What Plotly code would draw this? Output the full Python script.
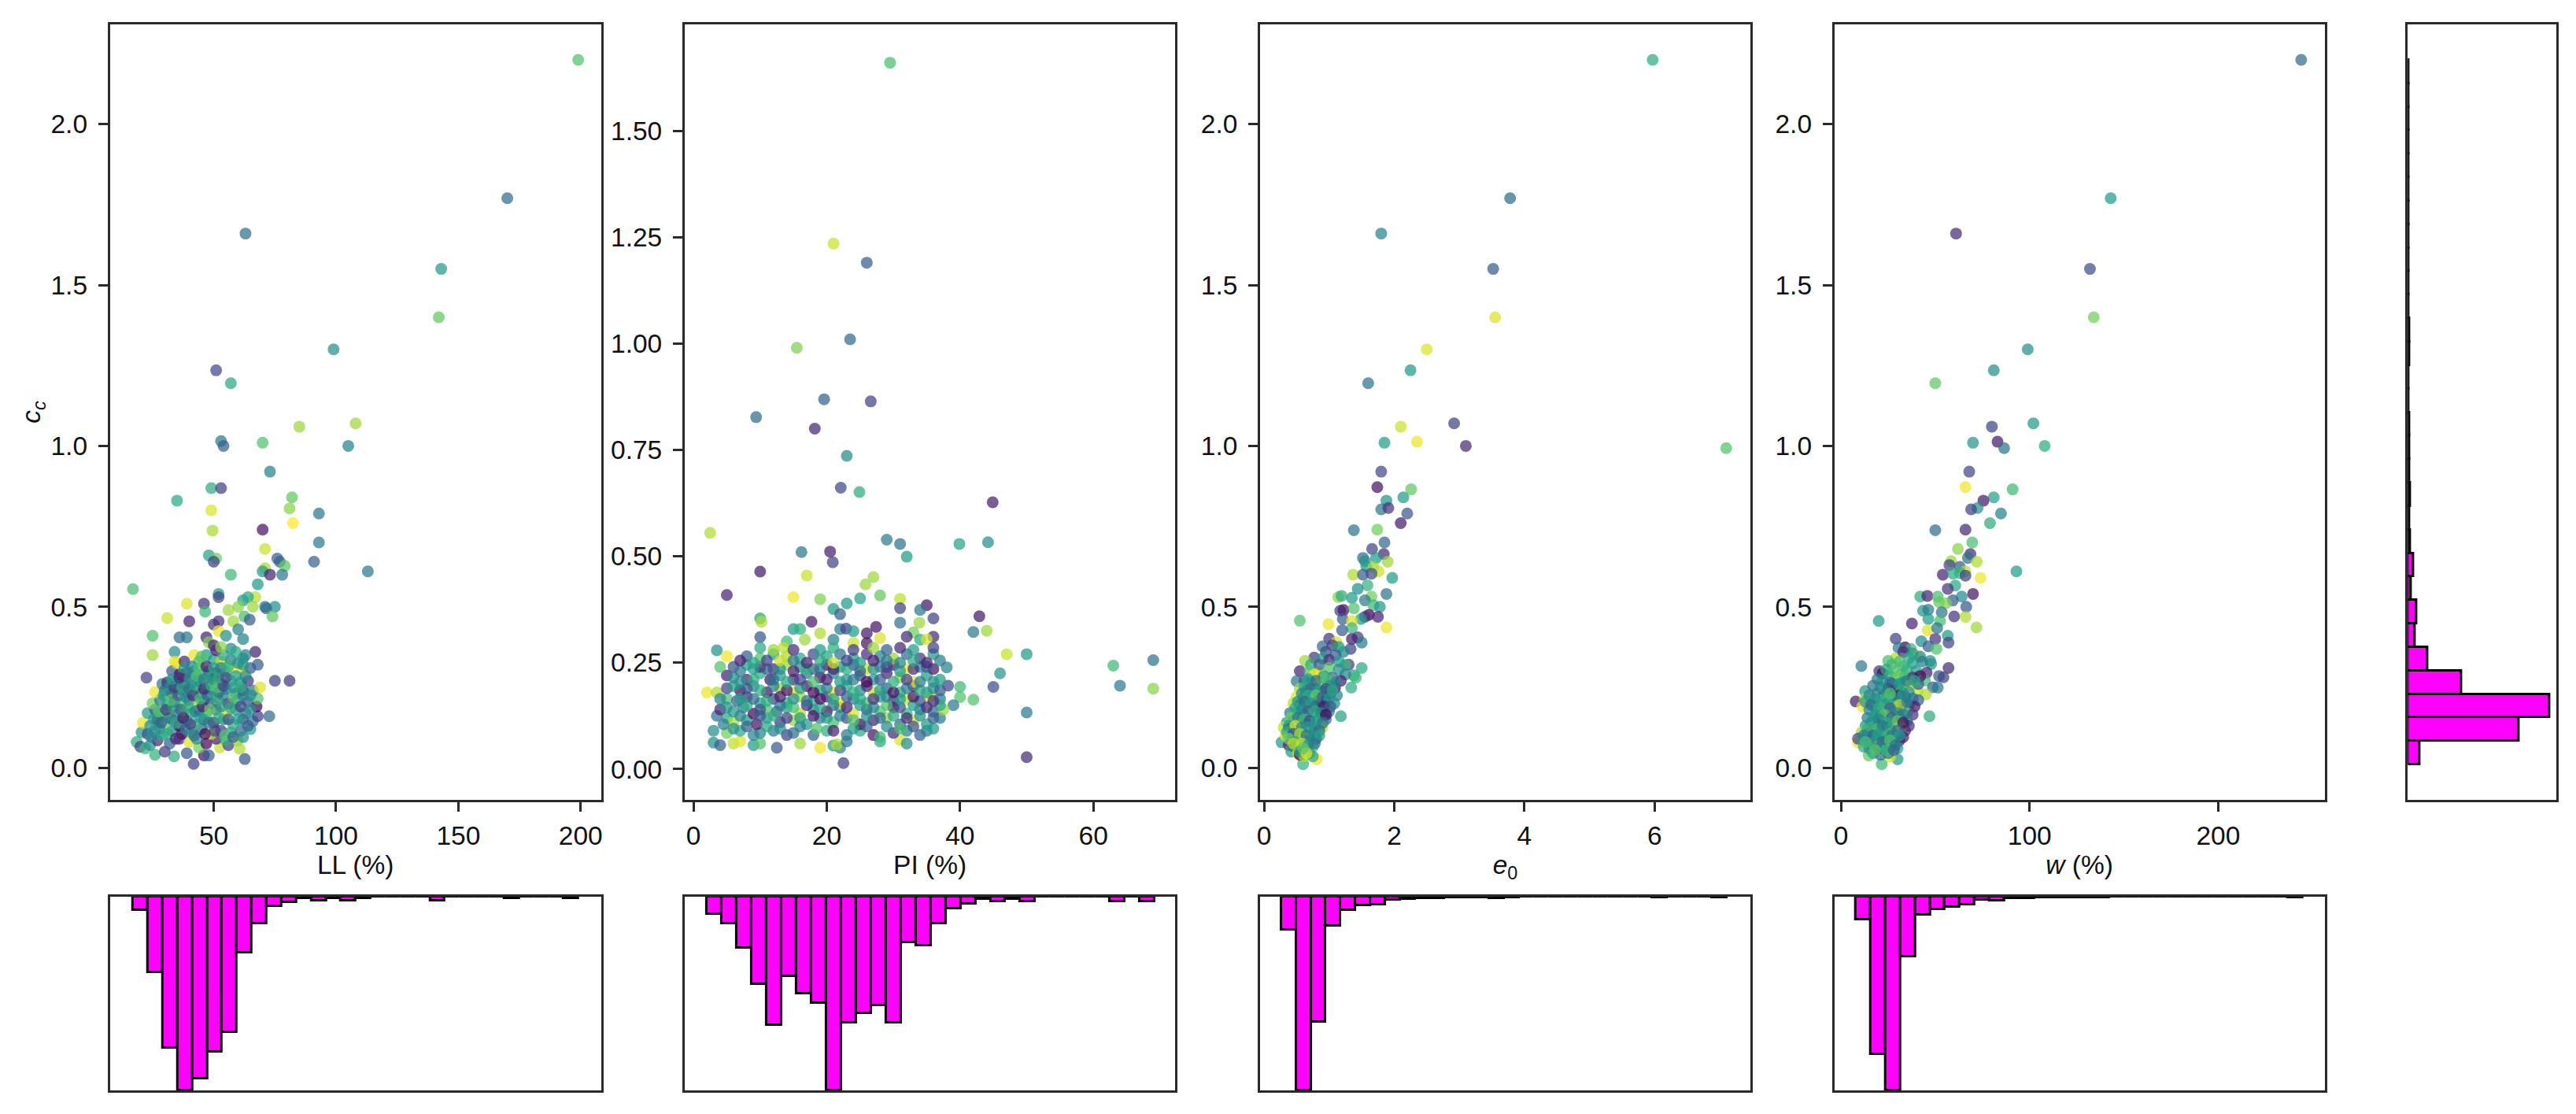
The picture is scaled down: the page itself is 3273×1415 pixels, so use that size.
import plotly.graph_objects as go

# (value, cc, colour value)
ll_points = [
(199,2.2,.72),(170,1.77,.35),(63,1.66,.38),(143,1.55,.55),(142,1.40,.75),(99,1.30,.5),(51,1.235,.22),(57,1.195,.6),
(53,1.015,.42),(54,1.0,.3),(70,1.01,.72),(108,1.07,.85),(105,1.0,.45),(85,1.06,.85),(73,.92,.45),(49,.869,.62),(53,.869,.2),
(35,.83,.6),(82,.84,.75),(81,.806,.82),(93,.79,.4),(49,.80,.95),(82.4,.76,1.0),(49.5,.737,.87),(70,.74,.05),(93,.70,.42),
(71,.68,.92),(76,.65,.32),(77,.64,.3),(48,.66,.58),(51,.65,.78),(50,.64,.2),(91,.64,.32),(79,.627,.75),(71,.62,.88),(70,.61,.55),
(73,.60,.1),(78,.60,.4),(57,.60,.68),(113,.61,.4),(68,.57,.55),(17,.555,.7),(52,.54,.55),(52,.53,.2),(67,.53,.9),(62,.52,.55),
(64,.53,.6),(39,.51,.95),(46,.51,.15),(66,.50,.85),(71,.50,.42),(75,.50,.5),(71.5,.495,.35),(46.5,.485,.68),(56,.49,.85),(60,.50,.82),
(62.5,.47,.7),(74,.47,.75),(31,.465,.92),(40,.455,.1),(50,.445,.15),(52,.455,.15),(58,.455,.85),(64.7,.46,.3),(60,.43,.45),(25,.41,.72),
(52,.425,.97),(36,.405,.35),(39,.405,.4),(47,.405,.1),(55,.41,.5),(62,.40,.45),(48,.39,.8),(67,.36,.1),(25,.35,.85),(34,.36,.5),
(62,.34,.5),(68,.32,.3),(75,.27,.2),(81,.27,.18),(22.5,.28,.2),(42,.35,.97),(34,.33,.95),(41.8,.012,.2),(62.7,.027,.28),(33.8,.035,.62),
(26,.04,.65),(30,.05,.18),(39,.045,.28),(46,.038,.05),(48,.038,.32),(44,.063,.78),(52.5,.063,.92),(60.6,.059,.88),(56,.07,.18),(59.8,.085,.85),
(18.5,.08,.62),(20,.065,.2),(22,.06,.66),(24,.07,.5),(27,.085,.12),(32,.075,.3),(36,.09,.1),(40,.08,.95),(43,.09,.48),(47,.075,.02),(51,.09,.08),(55,.085,.62),
(20.5,.11,.52),(23,.105,.25),(26,.115,.55),(29,.10,.6),(33,.115,.42),(37,.105,.02),(41,.11,.62),(45,.12,.3),(49,.105,.92),(53,.115,.18),(57,.11,.55),(61,.115,.32),(65,.12,.55),
(21,.14,.97),(24,.13,.48),(27,.15,.02),(30,.135,.75),(33,.15,.25),(36,.13,.02),(39,.145,.45),(43,.135,.65),(46,.15,.3),(50,.14,.05),(54,.15,.45),(58,.135,.62),(62,.15,.22),(66,.145,.38),(72.7,.16,.35),(68,.16,.2),
(23,.17,.55),(26,.18,.3),(29,.165,.62),(32,.175,.92),(35,.165,.42),(38,.18,.88),(41,.17,.55),(44,.18,.08),(47,.165,.68),(51,.18,.35),(55,.17,.92),(59,.18,.5),(63,.17,.42),(67.5,.19,.0),
(25,.20,.78),(28,.21,.42),(31,.195,.55),(34,.205,.12),(37,.20,.72),(40,.21,.3),(43,.195,.82),(46,.21,.58),(49,.20,.2),(52,.21,.78),(56,.20,.1),(60,.21,.62),(64,.205,.25),(68,.215,.72),
(26,.235,.97),(30,.24,.3),(33,.23,.08),(36,.245,.62),(39,.235,.2),(42,.24,.78),(45,.23,.42),(48,.245,.72),(52,.235,.1),(55,.245,.55),(59,.23,.45),(62,.24,.08),(66,.24,.42),(69,.25,.95),
(29,.26,.4),(31,.265,.12),(35,.27,.5),(38,.26,.1),(41,.265,.62),(44,.27,.28),(47,.26,.75),(50,.275,.08),(53,.26,.35),(57,.27,.68),(61,.265,.5),(64,.27,.15),
(33,.30,.3),(36,.29,.05),(39,.295,.1),(42,.30,.55),(45,.29,.62),(48,.30,.32),(51,.295,.02),(55,.30,.68),(59,.31,.98),(62,.30,.98),(65,.31,.3),
(35,.325,.98),(38,.33,.12),(44,.33,.7),(50,.335,.55),(53,.33,.9),(57,.335,.42),(63,.35,.45),(47,.35,.55),(51,.365,.05),
]
ll_dense = [
(24.5,.095,.45),(28,.12,.5),(31,.105,.62),(34.5,.09,.12),(38.5,.12,.42),(42,.10,.35),(46.5,.105,.02),(50.5,.115,.2),(54.5,.10,.72),(58,.095,.3),(62,.095,.5),
(25.5,.15,.55),(28.5,.14,.3),(31.5,.155,.45),(34.5,.14,.6),(37.5,.155,.05),(40.5,.135,.2),(44.5,.155,.55),(48,.14,.4),(52,.155,.62),(56,.15,.28),(60,.15,.55),(64,.13,.3),
(27.5,.175,.72),(30.5,.18,.18),(33.5,.19,.55),(36.5,.18,.3),(39.5,.19,.62),(42.5,.175,.45),(45.5,.19,.1),(48.5,.18,.75),(53,.19,.5),(57,.185,.62),(61,.19,.2),(65,.18,.5),
(29.5,.225,.55),(32.5,.21,.72),(35.5,.225,.35),(38.5,.22,.5),(41.5,.225,.12),(44.5,.215,.68),(47.5,.225,.3),(50.5,.22,.55),(54,.225,.4),(58,.22,.72),(62,.225,.42),(65,.225,.5),
(32,.25,.5),(34,.25,.15),(37,.25,.6),(40,.245,.38),(43,.255,.55),(46,.245,.1),(49,.255,.62),(51.5,.25,.72),(54,.255,.2),(58,.25,.5),(61,.25,.62),
(33,.275,.55),(36,.28,.12),(40,.28,.45),(43,.285,.7),(46,.275,.42),(49,.285,.55),(52,.28,.62),(55,.28,.2),(59,.285,.55),(63,.285,.48),
(38,.31,.55),(41,.315,.45),(44,.31,.72),(47,.315,.08),(50,.31,.6),(53,.31,.42),(56,.315,.65),(60,.325,.5),(62,.32,.52),(45,.345,.72),(54,.35,.6),(57,.37,.48),(59,.36,.6),(50,.38,.12),(53,.375,.82),
]

pi_points = [
(29.5,1.66,.7),(21,1.235,.92),(26,1.19,.3),(23.5,1.01,.35),(15.5,.99,.8),(19.6,.869,.32),(26.6,.864,.2),(9.4,.827,.35),(18.2,.80,.1),
(23,.736,.48),(22.1,.661,.22),(24.9,.651,.62),(44.9,.627,.08),(2.5,.555,.88),(29,.539,.42),(31,.529,.38),(39.9,.529,.58),(44.2,.533,.5),
(16.2,.51,.4),(20.5,.511,.08),(20.9,.486,.2),(32,.499,.55),(10,.464,.07),(17,.455,.92),(27,.451,.85),(25.8,.434,.85),(5,.409,.1),(15,.404,.98),
(19,.399,.8),(25,.401,.58),(28,.408,.75),(23,.389,.55),(31,.40,.9),(21,.376,.55),(31,.378,.2),(35,.385,.05),(34,.374,.4),(36,.354,.2),(10,.354,.58),
(10.2,.346,.88),(17.7,.346,.07),(22,.364,.3),(31,.344,.38),(33.9,.344,.85),(42.9,.359,.07),(42,.322,.42),(44,.325,.85),(15,.329,.55),(16,.329,.62),
(22,.329,.42),(22.9,.33,.2),(24,.324,.55),(27.4,.334,.05),(26,.319,.07),(19,.319,.88),(10,.31,.28),(33,.321,.78),(36,.311,.12),(32,.311,.12),(14,.30,.68),
(16.7,.304,.85),(21,.304,.45),(24,.296,.92),(26,.296,.05),(28,.308,.95),(34,.304,.6),(35,.305,.95),(3.5,.279,.5),(47,.27,.92),(50,.27,.55),(69,.256,.38),
(63,.243,.68),(46,.225,.52),(38,.239,.45),(64,.196,.42),(69,.189,.82),(45,.193,.25),(40,.193,.68),(40,.169,.72),(42,.163,.72),(50,.133,.4),(50,.028,.12),
(39,.15,.4),(38.2,.196,.22),(22.5,.014,.2),
(3,.062,.5),(4,.056,.3),(6,.06,.9),(7,.065,.95),(9,.056,.55),(10,.06,.72),(12.5,.05,.28),(16,.06,.85),(19,.05,.98),(21,.055,.55),(22,.05,.45),(21.5,.058,.88),(23,.065,.4),(28,.065,.6),(31,.068,.95),(32,.06,.48),
(3,.09,.5),(5,.085,.78),(7,.09,.6),(9,.08,.45),(10,.085,.45),(12,.09,.42),(14,.08,.2),(15,.085,.35),(18,.08,.32),(20,.09,.62),(23,.08,.42),(25,.09,.62),(27,.08,.05),(28,.075,.68),(30,.085,.12),(32,.09,.45),(34,.08,.3),(35,.09,.4),
(3.5,.125,.38),(5,.12,.6),(6,.11,.88),(8,.115,.55),(9.5,.105,.05),(11,.12,.5),(13,.11,.15),(15,.115,.85),(17,.105,.55),(19,.12,.42),(21,.11,.7),(23,.12,.25),(25,.105,.02),(27,.115,.1),(29,.12,.85),(31,.105,.32),(33,.115,.95),(35,.105,.55),(37,.12,.42),
(4,.14,.1),(6,.135,.55),(7.5,.145,.42),(9,.13,.02),(11,.14,.72),(12.5,.135,.3),(14,.145,.55),(16,.13,.9),(18,.14,.45),(20,.135,.02),(22,.145,.55),(24,.13,.95),(26,.14,.2),(28,.135,.72),(30,.145,.05),(32,.13,.65),(34,.14,.38),(36,.135,.35),(37.5,.14,.85),
(5,.165,.7),(6.5,.16,.3),(8,.17,.12),(10,.155,.58),(12,.165,.2),(14,.155,.62),(16,.17,.85),(18,.16,.62),(20,.17,.1),(22,.155,.98),(24,.165,.42),(26,.155,.7),(28,.17,.52),(30,.16,.12),(32,.165,.92),(34,.16,.25),(35.5,.17,.95),(37,.165,.42),
(2,.18,.98),(3.5,.18,.88),(5,.19,.2),(7,.185,.02),(9,.195,.42),(11,.18,.05),(13,.19,.85),(15,.18,.95),(17,.195,.05),(19,.185,.55),(21,.18,.97),(23,.195,.6),(25,.185,.48),(27,.18,.9),(29,.19,.3),(31,.18,.62),(33,.195,.08),(35,.18,.55),(36,.19,.5),
(5,.22,.1),(6,.215,.48),(8,.21,.1),(10,.225,.6),(11.5,.21,.05),(13,.22,.55),(15,.21,.12),(17,.225,.42),(19,.215,.02),(21,.225,.45),(23,.21,.5),(25,.22,.25),(27,.21,.55),(29,.225,.1),(31,.215,.82),(33,.205,.98),(35,.22,.55),(36,.205,.5),
(4,.24,.72),(6,.24,.25),(8,.245,.55),(10,.24,.08),(12,.235,.12),(14,.245,.85),(16,.24,.5),(18,.235,.3),(20,.245,.05),(22,.24,.55),(24,.245,.2),(26,.235,.92),(28,.24,.35),(30,.245,.08),(32,.235,.98),(34,.24,.42),(36,.235,.05),
(5,.265,.98),(8,.265,.3),(10,.26,.72),(12,.27,.55),(14,.265,.88),(16,.26,.6),(18,.27,.22),(20,.265,.58),(22,.27,.38),(24,.26,.52),(26,.27,.12),(28,.265,.45),(30,.26,.85),(32,.27,.35),(34,.26,.18),(36,.27,.52),
(10,.285,.6),(12,.28,.85),(13.5,.285,.9),(15,.28,.12),(19,.28,.55),(21,.285,.62),(24,.28,.18),(27,.285,.85),(29,.28,.3),(31,.285,.1),(33,.28,.55),(36,.285,.2),
]
pi_dense = [
(6,.095,.5),(8,.10,.3),(11,.10,.6),(13,.095,.5),(16,.10,.42),(18.5,.095,.72),(21,.09,.08),(24,.095,.55),(26,.10,.3),(29,.10,.48),(31,.095,.7),(33,.10,.25),(36,.095,.55),
(4.5,.105,.42),(7,.125,.45),(10,.125,.3),(12,.125,.62),(14,.12,.2),(16,.12,.55),(18,.125,.05),(20,.12,.55),(22,.125,.4),(24,.115,.72),(26,.125,.5),(28,.12,.35),(30,.125,.6),(32,.12,.12),(34,.125,.5),(36,.12,.3),
(5,.145,.5),(8,.15,.62),(10,.14,.25),(13,.15,.4),(15,.145,.7),(17,.15,.12),(19,.145,.6),(21,.15,.35),(23,.145,.08),(25,.15,.55),(27,.145,.45),(29,.15,.72),(31,.145,.25),(33,.15,.55),(35,.145,.12),(37,.15,.6),
(4,.165,.45),(7,.165,.55),(9,.165,.35),(11,.16,.62),(13,.17,.08),(15,.165,.5),(17,.16,.38),(19,.165,.05),(21,.165,.58),(23,.17,.3),(25,.165,.6),(27,.165,.15),(29,.17,.45),(31,.165,.55),(33,.17,.05),(36,.16,.12),
(6,.195,.55),(8,.19,.3),(10,.185,.62),(12,.195,.42),(14,.185,.05),(16,.19,.55),(18,.18,.02),(20,.19,.45),(22,.185,.2),(24,.18,.62),(26,.195,.12),(28,.185,.55),(30,.18,.05),(32,.19,.42),(34,.185,.6),(37,.185,.3),
(7,.205,.52),(9,.21,.62),(12,.21,.35),(14,.205,.6),(16,.21,.2),(18,.205,.7),(20,.21,.1),(22,.205,.55),(24,.21,.4),(26,.205,.02),(28,.21,.3),(30,.205,.62),(32,.21,.18),(34,.205,.4),(37,.21,.55),
(7,.23,.42),(9,.235,.55),(11,.235,.3),(13,.235,.5),(15,.23,.08),(17,.235,.65),(19,.235,.38),(21,.235,.1),(23,.235,.6),(25,.23,.3),(27,.235,.5),(29,.24,.2),(31,.23,.55),(33,.235,.12),(35,.24,.3),
(7,.255,.08),(9,.25,.6),(11,.255,.2),(13,.255,.92),(15,.255,.4),(17,.25,.1),(19,.255,.6),(21,.25,.92),(23,.255,.2),(25,.25,.55),(27,.255,.07),(29,.255,.42),(31,.25,.45),(33,.255,.6),(35,.25,.1),(37,.255,.42),
]

e0_points = [
(5.97,2.2,.62),(3.78,1.77,.35),(1.8,1.66,.45),(3.52,1.55,.3),(3.55,1.4,.95),(2.5,1.3,.95),(2.25,1.235,.55),(1.6,1.195,.38),
(2.92,1.07,.2),(2.1,1.06,.92),(2.35,1.013,.97),(1.85,1.01,.55),(3.1,1.0,.12),(7.1,.993,.72),(1.8,.92,.22),(1.74,.872,.05),(2.26,.865,.75),(2.14,.84,.55),
(1.88,.83,.52),(1.8,.803,.42),(1.91,.807,.15),(2.2,.79,.28),(2.1,.76,.07),(1.38,.738,.38),(1.74,.74,.78),(1.85,.70,.33),(1.66,.68,.22),(1.84,.664,.12),
(1.52,.652,.38),(1.72,.652,.55),(1.55,.642,.5),(1.9,.64,.85),(1.57,.626,.55),(1.68,.624,.85),(1.76,.61,.92),(1.37,.60,.88),(1.52,.60,.3),(1.65,.603,.25),
(1.97,.59,.55),(1.59,.567,.65),(1.44,.556,.5),(1.88,.54,.38),(1.14,.53,.82),(1.19,.534,.62),(1.35,.528,.55),(1.65,.532,.78),(1.55,.52,.42),(1.68,.505,.68),
(1.78,.50,.55),(1.17,.488,.2),(1.22,.49,.05),(1.38,.495,.72),(1.61,.475,.02),(1.75,.469,.1),(1.55,.469,.15),(1.49,.462,.55),(1.21,.462,.3),(.55,.457,.72),
(.99,.446,.97),(1.88,.436,.98),(1.35,.456,.95),(1.35,.434,.68),(1.2,.427,.3),(1.44,.405,.2),(1.0,.401,.15),(1.35,.40,.07),(1.5,.389,.42),(1.11,.39,.95),
(.9,.377,.35),(1.33,.369,.2),(1.22,.36,.45),(.77,.342,.18),(.63,.332,.85),(1.3,.32,.15),(1.5,.31,.6),(1.25,.32,.68),(.55,.30,.1),(1.38,.287,.58),(1.41,.28,.68),
(.85,.295,.95),(.5,.269,.4),(1.34,.249,.62),(1.09,.248,.02),(1.18,.16,.58),(.81,.026,.98),(.6,.011,.65),(.27,.079,.55),
(1.05,.38,.18),(1.15,.375,.55),(.95,.36,.25),(1.1,.35,.3),(.9,.34,.55),(1.0,.335,.12),(1.15,.33,.55),(.72,.32,.6),(.85,.32,.3),(1.0,.31,.72),(1.15,.305,.5),(1.25,.29,.45),
(.7,.30,.72),(.78,.29,.98),(.92,.285,.55),(1.05,.28,.35),(1.18,.27,.08),(.62,.27,.3),(.72,.265,.42),(.85,.26,.9),(.98,.26,.62),(1.1,.265,.45),(.55,.245,.85),(.65,.24,.2),(.78,.245,.5),(.9,.235,.38),
(1.02,.23,.02),(1.12,.225,.45),(.5,.22,.95),(.6,.215,.55),(.72,.22,.3),(.85,.21,.05),(.95,.205,.08),(1.08,.2,.5),(.45,.2,.88),(.55,.195,.35),(.65,.19,.72),(.78,.19,.05),(.88,.18,.55),(1.0,.175,.45),
(.4,.17,.42),(.5,.17,.62),(.6,.165,.38),(.72,.16,.72),(.85,.16,.7),(.95,.15,.38),(.35,.14,.55),(.45,.145,.3),(.55,.135,.82),(.65,.135,.1),(.75,.13,.68),(.88,.13,.55),
(.3,.125,.9),(.38,.12,.05),(.48,.115,.62),(.58,.12,.72),(.68,.11,.95),(.78,.11,.28),(.9,.125,.95),(.33,.1,.98),(.42,.095,.4),(.52,.09,.72),(.62,.085,.55),(.72,.085,.62),(.8,.09,.08),
(.38,.07,.1),(.46,.065,.02),(.55,.06,.9),(.65,.06,.35),(.75,.065,.7),(.42,.05,.55),(.52,.045,.92),(.55,.04,.0),(.7,.045,.6),(.62,.035,.88),(.75,.035,.6),
]
e0_dense = [
(.68,.275,.55),(.8,.27,.35),(.95,.275,.7),(1.02,.255,.5),(.62,.25,.6),(.72,.245,.35),(.85,.24,.55),(.95,.245,.25),(1.05,.24,.6),(.58,.23,.45),(.68,.225,.62),(.8,.225,.75),(.9,.22,.3),(1.0,.215,.55),
(.52,.205,.5),(.62,.205,.35),(.72,.20,.55),(.82,.195,.4),(.92,.19,.05),(1.02,.19,.3),(.48,.185,.6),(.58,.18,.45),(.68,.175,.3),(.78,.175,.62),(.88,.17,.45),(.95,.165,.02),
(.42,.155,.78),(.52,.155,.4),(.62,.15,.68),(.7,.145,.22),(.8,.145,.55),(.9,.14,.4),(.38,.13,.55),(.48,.13,.95),(.58,.125,.45),(.68,.125,.55),(.78,.12,.52),(.85,.115,.35),
(.35,.11,.62),(.45,.105,.25),(.55,.105,.88),(.65,.10,.35),(.75,.095,.5),(.85,.10,.58),(.38,.09,.78),(.48,.08,.6),(.58,.075,.92),(.68,.07,.5),(.78,.075,.4),(.45,.075,.9),(.55,.05,.55),(.65,.045,.95),(.6,.06,.75),
]

w_points = [
(244,2.2,.35),(143,1.77,.55),(61,1.66,.12),(132,1.55,.25),(134,1.4,.78),(99,1.30,.5),(81,1.235,.5),(50,1.195,.75),
(80,1.06,.22),(102,1.07,.55),(70,1.01,.52),(83,1.013,.07),(86.5,.993,.38),(108,1.0,.62),(68,.92,.22),(66,.872,.98),(91,.865,.68),(81,.84,.57),(75.5,.83,.07),
(72.4,.807,.52),(69,.803,.2),(84.8,.79,.45),(79,.76,.62),(50,.738,.35),(66,.74,.12),(69.6,.70,.7),(62,.68,.82),(68.6,.664,.12),(67.3,.652,.38),(72,.64,.88),
(58.4,.642,.85),(57.5,.63,.2),(63,.624,.3),(66,.61,.9),(93,.61,.55),(54,.60,.1),(59.4,.603,.62),(63,.605,.65),(66,.597,.2),(74,.59,.98),(60.6,.566,.6),(56.6,.556,.15),
(70,.54,.05),(42,.532,.62),(45.8,.534,.1),(51.3,.532,.7),(64,.532,.48),(52,.515,.75),(59.3,.52,.3),(55.6,.511,.8),(66.4,.50,.28),(43.5,.488,.52),(46.3,.491,.42),
(53.4,.483,.38),(60,.47,.15),(66,.469,.88),(46.3,.462,.55),(52.5,.456,.7),(20,.456,.55),(37.6,.448,.1),(71.8,.436,.85),(46,.427,.95),(51,.434,.38),(56.6,.41,.55),
(29,.401,.2),(50,.40,.15),(57,.389,.22),(42.6,.393,.48),(46.3,.377,.3),(34,.374,.02),(37,.369,.68),(30.5,.373,.4),(50.6,.369,.72),(40.7,.348,.98),(29,.34,.88),(25,.332,.7),
(47.3,.332,.5),(47.8,.322,.52),(57,.31,.12),(10.8,.316,.42),(20.3,.30,.15),(22,.293,.02),(31.8,.291,.72),(45.4,.295,.1),(52,.285,.3),(54.3,.281,.2),(44.5,.271,.68),
(37,.267,.92),(48.7,.25,.3),(51.3,.249,.4),(30,.252,.05),(19.3,.275,.42),(40.7,.238,.9),(45,.228,.88),(12.8,.238,.55),(7.8,.206,.08),(12.8,.214,.9),(11.3,.19,.98),
(46.9,.16,.62),(30,.026,.55),(21.6,.011,.68),(14.7,.038,.75),(9,.079,.97),(26,.034,.95),
(33,.36,.12),(38,.355,.55),(42,.345,.5),(36,.34,.6),(31,.33,.7),(43,.33,.42),(38,.325,.55),(27,.32,.68),(33,.315,.68),(24,.305,.6),(28,.30,.72),(35,.305,.62),(40,.30,.55),
(26,.285,.65),(30,.28,.78),(34,.285,.7),(38,.28,.1),(42,.285,.02),(22,.27,.5),(26,.265,.4),(29,.26,.68),(33,.265,.55),(36,.255,.98),(41,.26,.3),(17,.255,.38),(21,.25,.45),(25,.245,.02),
(28,.24,.05),(32,.24,.75),(36,.235,.5),(15,.225,.45),(19,.23,.42),(23,.225,.2),(27,.22,.55),(31,.225,.02),(34,.22,.15),(38,.215,.35),(41,.21,.3),(13,.205,.55),(17,.20,.62),(21,.21,.72),(25,.20,.35),(29,.205,.6),(33,.20,.18),(36,.195,.28),(39,.19,.08),
(15,.18,.48),(19,.175,.38),(23,.185,.98),(27,.175,.55),(31,.18,.05),(35,.17,.72),(38,.165,.15),(14,.155,.42),(17,.15,.6),(21,.16,.22),(25,.15,.55),(28,.155,.85),(32,.15,.3),(35,.145,.45),(36,.13,.15),
(13,.13,.52),(16,.125,.9),(20,.135,.25),(24,.125,.05),(28,.13,.8),(32,.125,.95),(34,.115,.12),(11,.11,.85),(14,.105,.35),(18,.11,.62),(22,.10,.15),(25,.105,.98),(29,.10,.2),(33,.095,.1),
(9,.09,.2),(12,.085,.55),(16,.085,.4),(20,.08,.92),(24,.085,.5),(28,.08,.45),(31,.085,.05),(12,.065,.62),(15,.06,.5),(18,.065,.95),(22,.06,.55),(26,.065,.35),(30,.06,.6),(17,.045,.6),(21,.04,.32),(25,.045,.4),
]
w_dense = [
(18,.215,.5),(23,.245,.55),(27,.26,.3),(31,.26,.55),(35,.27,.42),(39,.27,.6),(24,.215,.62),(30,.215,.4),(33,.23,.55),(26,.23,.72),(22,.195,.55),(28,.19,.68),(31,.195,.9),(35,.205,.45),
(16,.195,.35),(20,.185,.62),(26,.185,.3),(30,.17,.5),(33,.165,.42),(18,.165,.55),(23,.165,.72),(27,.155,.3),(20,.15,.45),(24,.14,.6),(30,.145,.75),(33,.14,.05),(16,.14,.5),(19,.12,.7),(22,.13,.4),(26,.12,.55),(30,.115,.32),
(14,.12,.62),(12,.10,.45),(17,.10,.3),(20,.105,.55),(24,.095,.62),(27,.10,.42),(31,.10,.55),(15,.075,.45),(19,.09,.55),(22,.08,.3),(26,.085,.72),(29,.07,.4),(13,.08,.7),(20,.06,.45),(24,.055,.68),(28,.055,.3),(18,.055,.72),
]

# histogram counts (30 equal bins)
ll_hist_start, ll_hist_width = 17, 6.07
ll_counts = [7,39,78,100,94,80,70,29,14,5,3,1,2,1,2,1,0,0,0,0,2,0,0,0,0,1,0,0,0,1]
pi_hist_start, pi_hist_width = 2, 2.24
pi_counts = [7,11,21,36,53,33,40,44,80,52,48,45,52,19,20,11,5,3,1,2,1,2,0,0,0,0,0,2,0,2]
e0_hist_start, e0_hist_width = .265, .228
e0_counts = [42,245,158,37,17,11,10,4,3,2,2,1,1,1,2,1,0,0,0,0,0,0,0,0,0,1,0,0,0,1]
w_hist_start, w_hist_width = 7.7, 7.9
w_counts = [24,167,205,63,19,13,11,8,3,4,2,2,1,1,1,1,1,0,0,0,0,0,0,0,0,0,0,0,0,1]
cc_hist_start, cc_hist_width = .01, .073
cc_counts = [17,160,204,77,28,10,12,4,8,3,2,3,2,2,2,1,1,2,2,1,1,1,1,1,1,1,1,1,1,1]

W, H = 3273, 1415
TXT = "#111111"
FRAME = "#2a2a2a"
FS = 33.5

def dx(a, b): return [a / W, b / W]
def dy(top, bot): return [1 - bot / H, 1 - top / H]

panels = [
    (ll_points + ll_dense, (136, 761), [7.6, 208.3], [50, 100, 150, 200], "LL (%)", ".1f", [-.1, 2.31], [0, .5, 1, 1.5, 2], ll_counts, ll_hist_start, ll_hist_width, 100),
    (pi_points + pi_dense, (867.5, 1492), [-1.33, 72.3], [0, 20, 40, 60], "PI (%)", ".2f", [-.0725, 1.75], [0, .25, .5, .75, 1, 1.25, 1.5], pi_counts, pi_hist_start, pi_hist_width, 80),
    (e0_points + e0_dense, (1600, 2224), [-.06, 7.47], [0, 2, 4, 6], "<i>e</i><sub>0</sub>", ".1f", [-.1, 2.31], [0, .5, 1, 1.5, 2], e0_counts, e0_hist_start, e0_hist_width, 245),
    (w_points + w_dense, (2331, 2955), [-3.5, 256.4], [0, 100, 200], "<i>w</i> (%)", ".1f", [-.1, 2.31], [0, .5, 1, 1.5, 2], w_counts, w_hist_start, w_hist_width, 205),
]

fig = go.Figure()
layout = {}
axis_style = dict(showline=True, mirror=True, linecolor=FRAME, linewidth=3, showgrid=False, zeroline=False,
                  tickfont=dict(family="Liberation Sans", size=FS, color=TXT))
n = 1
for pts, (x0, x1), xr, xt, xlab, yf, yr, yt, counts, st, wd, cmax in panels:
    xs, ys, cs = zip(*pts)
    fig.add_trace(go.Scatter(x=xs, y=ys, mode="markers", xaxis=f"x{n}", yaxis=f"y{n}", showlegend=False,
                             marker=dict(size=15, opacity=.72, color=cs, colorscale="Viridis", cmin=0, cmax=1, line=dict(width=0))))
    layout[f"xaxis{n}"] = dict(axis_style, domain=dx(x0, x1), range=xr, tickvals=xt, ticks="outside", ticklen=12, tickwidth=3,
                               tickcolor=FRAME, anchor=f"y{n}", ticktext=[str(v) for v in xt], ticklabelstandoff=2,
                               title=dict(text=xlab, font=dict(family="Liberation Sans", size=FS, color=TXT), standoff=8))
    layout[f"yaxis{n}"] = dict(axis_style, domain=dy(31, 1016), range=yr, tickvals=yt, tickformat=yf, ticks="outside", ticklen=12,
                               tickwidth=3, tickcolor=FRAME, anchor=f"x{n}", ticklabelstandoff=7)
    m = n + 1
    fig.add_trace(go.Bar(x=[st + wd * (i + .5) for i in range(len(counts))], y=counts, width=wd, xaxis=f"x{m}", yaxis=f"y{m}", showlegend=False,
                         marker=dict(color="#ff00ff", line=dict(color="#000000", width=3))))
    layout[f"xaxis{m}"] = dict(axis_style, domain=dx(x0, x1), range=xr, showticklabels=False, ticks="", anchor=f"y{m}")
    layout[f"yaxis{m}"] = dict(axis_style, domain=dy(1139, 1385), range=[cmax, 0], showticklabels=False, ticks="", anchor=f"x{m}")
    n += 2

fig.add_trace(go.Bar(y=[cc_hist_start + cc_hist_width * (i + .5) for i in range(len(cc_counts))], x=cc_counts, width=cc_hist_width,
                     orientation="h", xaxis=f"x{n}", yaxis=f"y{n}", showlegend=False,
                     marker=dict(color="#ff00ff", line=dict(color="#000000", width=3))))
layout[f"xaxis{n}"] = dict(axis_style, domain=dx(3061, 3250), range=[0, 214], showticklabels=False, ticks="", anchor=f"y{n}")
layout[f"yaxis{n}"] = dict(axis_style, domain=dy(31, 1016), range=[-.1, 2.31], showticklabels=False, ticks="", anchor=f"x{n}")
layout["yaxis"] = layout.pop("yaxis1")
layout["xaxis"] = layout.pop("xaxis1")
layout["yaxis"]["title"] = dict(text="<i>c</i><sub><i>c</i></sub>", font=dict(family="Liberation Sans", size=FS, color=TXT), standoff=3)
for tr in fig.data:
    if tr.xaxis == "x1": tr.xaxis = "x"
    if tr.yaxis == "y1": tr.yaxis = "y"

fig.update_layout(width=W, height=H, margin=dict(l=0, r=0, t=0, b=0), paper_bgcolor="white", plot_bgcolor="white",
                  bargap=0, font=dict(family="Liberation Sans", color=TXT), **layout)
fig.write_html("out.html", post_script="document.body.style.margin='0';", config={"displayModeBar": False})
